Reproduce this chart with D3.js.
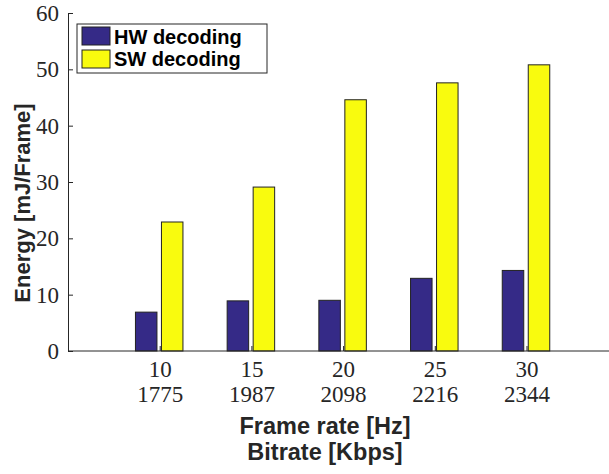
<!DOCTYPE html>
<html><head><meta charset="utf-8">
<script src="https://cdn.jsdelivr.net/npm/d3@7"></script>
<style>body{margin:0;background:#fff}svg{display:block}</style>
</head><body>
<script>
const frameRates = ["10","15","20","25","30"];
const bitrates = ["1775","1987","2098","2216","2344"];
const seriesNames = ["HW decoding","SW decoding"];
const hwValues = [6.9, 8.9, 9.0, 12.9, 14.3];
const swValues = [22.9, 29.1, 44.6, 47.6, 50.8];
const yTicks = [0,10,20,30,40,50,60];
const colors = ["#352a87","#f9fb0e"];

(function(){
const W=609,H=474;
const svg=d3.select("body").append("svg").attr("width",W).attr("height",H);
const mLeft=68, mBottom=351, mTop=13;
const x=d3.scaleLinear().domain([0,6]).range([mLeft,mLeft+91.7*6]);
const y=d3.scaleLinear().domain([0,60]).range([mBottom,mTop]);
const serif="'Liberation Serif','DejaVu Serif',serif";
const sans="'Liberation Sans',Arial,sans-serif";

// bars
const barW=21.5, off=[-13.5,12.5];
[hwValues,swValues].forEach((vals,s)=>{
  svg.append("g").selectAll("rect").data(vals).join("rect")
    .attr("x",(d,i)=>x(i+1)+off[s]-barW/2)
    .attr("y",d=>y(d))
    .attr("width",barW)
    .attr("height",d=>y(0)-y(d))
    .attr("fill",colors[s]).attr("stroke","#222").attr("stroke-width",1);
});

// y axis
const ya=svg.append("g").attr("transform",`translate(${mLeft},0)`)
  .call(d3.axisLeft(y).tickValues(yTicks).tickSizeInner(-5).tickSizeOuter(0).tickPadding(9));
ya.select(".domain").attr("stroke","#262626");
ya.selectAll(".tick line").attr("stroke","#262626");
ya.selectAll(".tick text").attr("font-family",serif).attr("font-size",23).attr("fill","#262626");

// x axis
const xa=svg.append("g").attr("transform",`translate(0,${mBottom})`)
  .call(d3.axisBottom(x).tickValues([1,2,3,4,5]).tickSizeInner(-5).tickSizeOuter(0).tickFormat(()=>""));
xa.select(".domain").attr("stroke","#262626").attr("d",`M${mLeft},0H${W}`);
xa.selectAll(".tick line").attr("stroke","#262626");
xa.selectAll(".tick").each(function(d,i){
  const g=d3.select(this);
  g.append("text").attr("y",26).attr("text-anchor","middle").attr("font-family",serif).attr("font-size",23).attr("fill","#262626").text(frameRates[i]);
  g.append("text").attr("y",51).attr("text-anchor","middle").attr("font-family",serif).attr("font-size",23).attr("fill","#262626").text(bitrates[i]);
});

// axis labels
svg.append("text").attr("x",325).attr("y",434).attr("text-anchor","middle").attr("font-family",sans).attr("font-weight","bold").attr("font-size",23.5).attr("fill","#262626").text("Frame rate [Hz]");
svg.append("text").attr("x",325).attr("y",460).attr("text-anchor","middle").attr("font-family",sans).attr("font-weight","bold").attr("font-size",23.5).attr("fill","#262626").text("Bitrate [Kbps]");
svg.append("text").attr("transform","translate(29.5,203) rotate(-90)").attr("text-anchor","middle").attr("font-family",sans).attr("font-weight","bold").attr("font-size",22).attr("fill","#262626").text("Energy [mJ/Frame]");

// legend
const lg=svg.append("g");
lg.append("rect").attr("x",77).attr("y",24).attr("width",190).attr("height",49).attr("fill","#fff").attr("stroke","#262626").attr("stroke-width",1);
seriesNames.forEach((n,i)=>{
  lg.append("rect").attr("x",82).attr("y",27+i*23).attr("width",28).attr("height",18).attr("fill",colors[i]).attr("stroke","#222");
  lg.append("text").attr("x",114).attr("y",43.5+i*22).attr("font-family",sans).attr("font-weight","bold").attr("font-size",20).attr("fill","#000").text(n);
});
})();
</script>
</body></html>
